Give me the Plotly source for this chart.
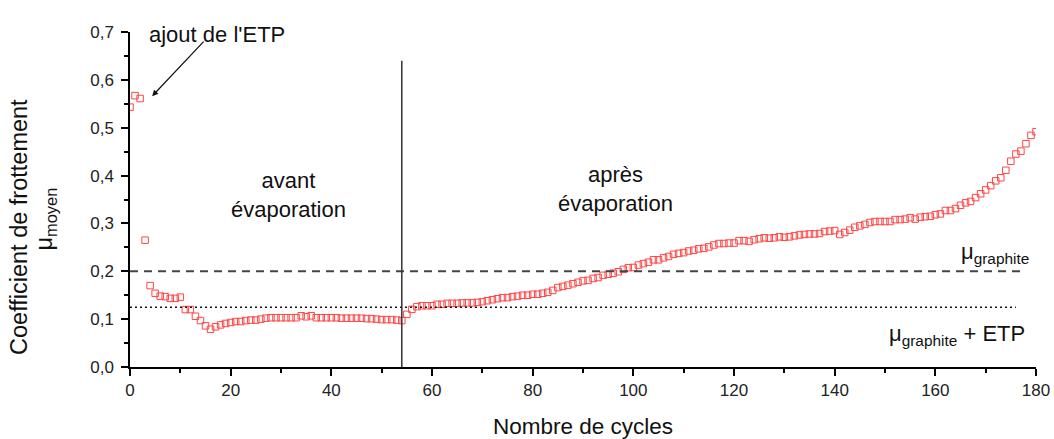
import plotly.graph_objects as go

# Friction coefficient per cycle
cycles = list(range(0, 181))
mu_moyen = [
    0.543, 0.567, 0.561, 0.265, 0.170, 0.154, 0.148, 0.147, 0.1435, 0.1435,
    0.146, 0.120, 0.120, 0.106, 0.097, 0.086, 0.079, 0.084, 0.088, 0.091,
    0.093, 0.095, 0.095, 0.097, 0.098, 0.098, 0.100, 0.102, 0.103, 0.103,
    0.103, 0.103, 0.103, 0.103, 0.107, 0.105, 0.107, 0.103, 0.103, 0.103,
    0.103, 0.103, 0.102, 0.102, 0.102, 0.102, 0.102, 0.101, 0.101, 0.100,
    0.099, 0.099, 0.099, 0.098, 0.097, 0.110, 0.1205, 0.126, 0.128, 0.128,
    0.128, 0.131, 0.131, 0.133, 0.133, 0.133, 0.134, 0.134, 0.134, 0.135,
    0.1365, 0.1385, 0.1406, 0.1427, 0.1448, 0.145, 0.147, 0.148, 0.150, 0.150,
    0.152, 0.152, 0.154, 0.156, 0.160, 0.166, 0.1685, 0.171, 0.174, 0.177,
    0.180, 0.181, 0.185, 0.187, 0.1915, 0.1937, 0.196, 0.199, 0.204, 0.2075,
    0.208, 0.213, 0.216, 0.219, 0.224, 0.224, 0.228, 0.231, 0.2355, 0.2375,
    0.239, 0.2424, 0.244, 0.247, 0.248, 0.251, 0.255, 0.258, 0.258, 0.259,
    0.259, 0.264, 0.264, 0.2625, 0.266, 0.268, 0.270, 0.269, 0.270, 0.272,
    0.271, 0.272, 0.274, 0.276, 0.277, 0.278, 0.278, 0.279, 0.283, 0.284,
    0.285, 0.277, 0.281, 0.286, 0.292, 0.295, 0.298, 0.302, 0.304, 0.304,
    0.304, 0.304, 0.308, 0.308, 0.309, 0.312, 0.309, 0.313, 0.314, 0.315,
    0.318, 0.320, 0.327, 0.327, 0.331, 0.338, 0.343, 0.346, 0.354, 0.362,
    0.370, 0.379, 0.389, 0.3955, 0.411, 0.430, 0.445, 0.451, 0.4666, 0.484,
    0.4917,
]

# Reference levels
mu_graphite = 0.2
mu_graphite_etp = 0.125
evaporation_cycle = 54

FONT = "Liberation Sans, Arial, sans-serif"

fig = go.Figure()
fig.add_trace(go.Scatter(
    x=cycles, y=mu_moyen, mode="markers",
    marker=dict(symbol="square-open", size=6.5, color="rgb(255,70,70)",
                line=dict(width=1, color="rgb(255,70,70)")),
    cliponaxis=True, showlegend=False, hoverinfo="x+y",
))

fig.add_shape(type="line", xref="x", yref="y", x0=0, x1=178,
              y0=mu_graphite, y1=mu_graphite,
              line=dict(color="#444444", width=2, dash="8px,6px"))
fig.add_shape(type="line", xref="x", yref="y", x0=0, x1=176,
              y0=mu_graphite_etp, y1=mu_graphite_etp,
              line=dict(color="#111111", width=1.5, dash="2px,3px"))
fig.add_shape(type="line", xref="x", yref="y", x0=evaporation_cycle,
              x1=evaporation_cycle, y0=0, y1=0.64,
              line=dict(color="#333333", width=1.5))

txt = dict(color="#111111", family=FONT, size=22)
# label sits above the plotting area, so it is placed in paper coordinates
fig.add_annotation(x=17.3, y=1.036, xref="x", yref="paper", text="ajout de l'ETP",
                   showarrow=False, font=txt)
fig.add_annotation(x=4.4, y=0.566, ax=14.9, ay=0.683, xref="x", yref="y",
                   axref="x", ayref="y", text="", showarrow=True,
                   arrowhead=2, arrowsize=1, arrowwidth=1.2, arrowcolor="#111111")
fig.add_annotation(x=31.4, y=0.359, xref="x", yref="y",
                   text="avant<br>évaporation", showarrow=False, font=txt)
fig.add_annotation(x=96.4, y=0.372, xref="x", yref="y",
                   text="après<br>évaporation", showarrow=False, font=txt)
fig.add_annotation(x=171.9, y=0.238, xref="x", yref="y",
                   text="μ<sub>graphite</sub>", showarrow=False, font=txt)
fig.add_annotation(x=164.3, y=0.067, xref="x", yref="y",
                   text="μ<sub>graphite</sub> + ETP", showarrow=False, font=txt)

# y-axis title, two lines set as rotated labels left of the tick labels
ytitle_font = dict(family=FONT, size=23.5, color="#111111")
fig.add_annotation(x=-111 / 906, y=0.418, xref="paper", yref="paper",
                   text="Coefficient de frottement", textangle=-90,
                   showarrow=False, xanchor="center", yanchor="middle",
                   font=ytitle_font)
fig.add_annotation(x=-84 / 906, y=0.44, xref="paper", yref="paper",
                   text="μ<sub>moyen</sub>", textangle=-90, showarrow=False,
                   xanchor="center", yanchor="middle", font=ytitle_font)

axis_common = dict(
    showline=True, linecolor="black", linewidth=1.5, mirror=False,
    showgrid=False, zeroline=False, ticks="outside", ticklen=7,
    tickwidth=1.5, tickcolor="black", automargin=False,
    tickfont=dict(family=FONT, size=17, color="#222222"),
)

fig.update_xaxes(
    range=[0, 180], tick0=0, dtick=20,
    minor=dict(dtick=10, ticks="outside", ticklen=4, tickwidth=1.5,
               tickcolor="black"),
    title=dict(text="Nombre de cycles", standoff=22,
               font=dict(family=FONT, size=22.5, color="#111111")),
    **axis_common,
)
fig.update_yaxes(
    range=[0, 0.7], tick0=0, dtick=0.1, tickformat=".1f",
    ticklabelstandoff=4,
    minor=dict(dtick=0.05, ticks="outside", ticklen=4, tickwidth=1.5,
               tickcolor="black"),
    **axis_common,
)

fig.update_layout(
    width=1054, height=439,
    margin=dict(l=130, r=18, t=32, b=72),
    paper_bgcolor="white", plot_bgcolor="white",
    separators=", ",
    font=dict(family=FONT),
)

fig.write_html("out.html")
